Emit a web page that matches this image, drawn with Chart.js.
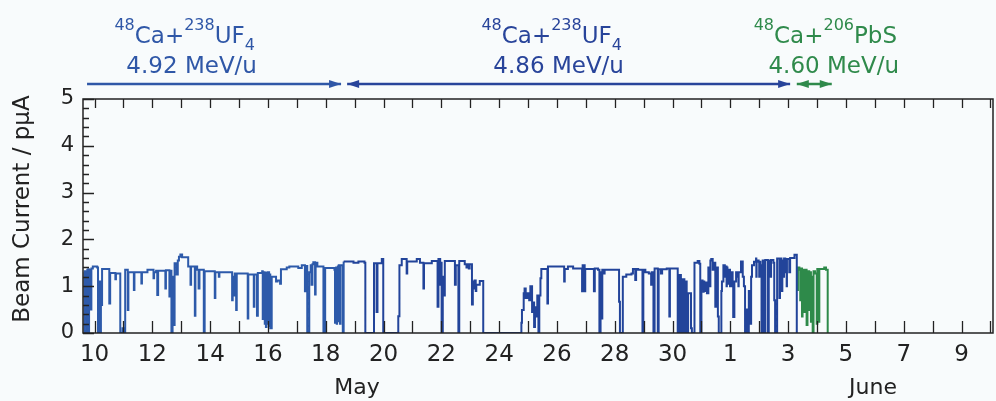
<!DOCTYPE html>
<html>
<head>
<meta charset="utf-8">
<script src="https://cdn.jsdelivr.net/npm/chart.js@4.4.1/dist/chart.umd.min.js"></script>
<style>
  html, body { margin: 0; padding: 0; background: #f8fbfc; }
  #wrap { width: 996px; height: 401px; }
</style>
</head>
<body>
<div id="wrap"><canvas id="beam" width="996" height="401"></canvas></div>
<script>
// Time axis: day of May (June days continue as 32, 33, ...)
// 48Ca on UF4 targets
const ufTimes = [
  // May 9-10
  9.63, 9.65, 9.66, 9.68, 9.70, 9.71, 9.73, 9.75, 9.76, 9.78, 9.80, 9.81, 9.83, 9.85, 9.87, 9.89,
  9.94, 10.09, 10.12, 10.14, 10.17, 10.20, 10.22, 10.26,
  // May 10-15
  10.51, 10.54, 10.72, 10.74, 10.89, 10.97, 11.02, 11.06, 11.15, 11.17, 11.36, 11.38, 11.62, 11.64,
  11.83, 12.04, 12.06, 12.13, 12.17, 12.20, 12.45, 12.47, 12.59, 12.61, 12.66, 12.70, 12.74, 12.77,
  12.84, 12.88, 12.92, 12.97, 13.03, 13.24, 13.32, 13.34, 13.47, 13.49, 13.55, 13.60, 13.63, 13.78,
  13.81, 14.16, 14.18, 14.30, 14.32, 14.76, 14.78, 14.82, 14.85, 14.90, 14.92, 15.30, 15.32, 15.51,
  15.53, 15.62, 15.65,
  // May 15-16
  15.80, 15.82, 15.83, 15.85, 15.87, 15.89, 15.90, 15.93, 15.95, 15.97, 15.98, 16.00, 16.02, 16.04,
  16.06, 16.08, 16.13,
  // May 16-18
  16.28, 16.33, 16.42, 16.45, 16.65, 16.74, 17.05, 17.17, 17.28, 17.31, 17.36, 17.43, 17.48, 17.51,
  17.54, 17.57, 17.63, 17.65, 17.71, 17.92, 17.98,
  // May 18
  18.30, 18.32, 18.33, 18.35, 18.36, 18.38, 18.39, 18.41, 18.42, 18.44, 18.45, 18.47, 18.48, 18.49,
  18.51, 18.59,
  // May 18-30
  18.62, 18.96, 19.13, 19.34, 19.37, 19.67, 19.76, 19.79, 19.94, 19.99, 20.51, 20.55, 20.63, 20.80,
  20.82, 21.15, 21.26, 21.38, 21.40, 21.67, 21.87, 21.90, 21.96, 21.98, 22.01, 22.05, 22.08, 22.12,
  22.47, 22.50, 22.59, 22.62, 22.81, 22.87, 22.90, 22.95, 22.98, 23.06, 23.09, 23.13, 23.15, 23.19,
  23.21, 23.33, 23.45, 24.77, 24.79, 24.85, 24.88, 24.92, 24.98, 25.04, 25.08, 25.14, 25.17, 25.21,
  25.24, 25.29, 25.32, 25.36, 25.39, 25.43, 25.46, 25.67, 25.69, 26.25, 26.27, 26.38, 26.56, 26.87,
  26.89, 26.96, 26.98, 27.28, 27.31, 27.42, 27.47, 27.51, 27.54, 27.57, 27.63, 27.65, 28.15, 28.18,
  28.28, 28.40, 28.58, 28.63, 28.71, 28.74, 28.81, 28.96, 28.99, 29.06, 29.18, 29.26, 29.28, 29.34,
  29.38, 29.49, 29.52, 29.60, 29.64, 29.80, 29.89, 29.91, 30.18, 30.24, 30.29, 30.35, 30.41, 30.44,
  30.49, 30.54, 30.64, 30.67,
  // May 30 - June 3
  30.76, 30.87, 30.93, 30.96, 31.00, 31.02, 31.03, 31.04, 31.07, 31.08, 31.10, 31.13, 31.16, 31.19,
  31.24, 31.27, 31.31, 31.34, 31.39, 31.44, 31.48, 31.52, 31.57, 31.60, 31.69, 31.71, 31.76, 31.81,
  31.82, 31.85, 31.87, 31.88, 31.90, 31.94, 31.99, 32.04, 32.08, 32.10, 32.14, 32.20, 32.25, 32.28,
  32.29, 32.31, 32.37, 32.43, 32.47, 32.51, 32.57, 32.60, 32.64, 32.68, 32.72, 32.75, 32.82, 32.89,
  32.90, 32.91, 32.98, 33.00, 33.01, 33.04, 33.08, 33.12, 33.19, 33.21, 33.30, 33.33, 33.40, 33.41,
  33.49, 33.52, 33.55, 33.62, 33.70, 33.72, 33.77, 33.80, 33.83, 33.86, 33.90, 33.91, 33.95, 33.96,
  34.04, 34.07, 34.22, 34.30
];
const ufCurrent = [
  // May 9-10
  1.30, 0, 1.32, 0.60, 1.30, 1.28, 0, 1.35, 0.30, 1.36, 0, 1.33, 0.90, 1.35, 0.50, 1.38,
  1.42, 1.40, 0, 1.05, 1.10, 0, 0.60, 1.37,
  // May 10-15
  0.63, 1.28, 1.15, 1.27, 0, 0.10, 0, 1.35, 0.49, 1.30, 0.92, 1.30, 1.06, 1.30,
  1.35, 1.17, 1.30, 1.33, 0.81, 1.33, 0.95, 1.34, 0.78, 1.33, 0, 1.20, 0.17, 1.49,
  1.25, 1.55, 1.63, 1.68, 1.62, 1.42, 1.03, 1.42, 0.37, 1.42, 1.35, 0.95, 1.35, 0,
  1.32, 0.75, 1.30, 1.20, 1.30, 0.70, 1.20, 0.80, 1.27, 0.49, 1.27, 0.31, 1.25, 0.56,
  1.25, 0.37, 1.28,
  // May 15-16
  1.32, 0.30, 1.30, 0.45, 1.30, 0.20, 1.28, 0.13, 1.25, 0.40, 1.30, 0.20, 1.30, 0.15,
  1.25, 0.10, 1.20,
  // May 16-18
  1.10, 1.12, 1.05, 1.36, 1.40, 1.42, 1.39, 1.45, 0.89, 1.43, 0, 1.30, 1.45, 1.03,
  1.47, 1.51, 0.82, 1.50, 1.42, 0, 1.39,
  // May 18
  1.35, 0.22, 1.38, 0.30, 1.40, 0.20, 1.40, 0.60, 1.42, 0.25, 1.45, 0.50, 1.45, 0.20,
  1.45, 0,
  // May 18-30
  1.53, 1.50, 1.53, 1.50, 0, 1.49, 0.45, 1.49, 1.58, 0, 0.36, 1.45, 1.58, 1.27,
  1.53, 1.58, 1.50, 0.95, 1.49, 1.54, 0.56, 1.58, 1.03, 1.50, 0, 1.20, 0.80, 1.54,
  1.03, 1.45, 0, 1.54, 1.47, 1.40, 1.47, 1.38, 1.47, 0.61, 1.10, 0.95, 1.12, 0.90,
  1.03, 1.11, 0, 0.22, 0.49, 0.85, 0.95, 0.75, 0.85, 0.70, 1.00, 0.45, 0.65, 0.13,
  0.55, 0.35, 0.80, 0, 0.80, 1.17, 1.37, 0.63, 1.42, 1.10, 1.37, 1.42, 1.38, 0.89,
  1.45, 0.89, 1.37, 0.89, 1.38, 1.35, 0, 1.30, 0.31, 1.35, 1.27, 1.35, 0.67, 0,
  1.20, 1.25, 1.27, 1.37, 1.13, 1.37, 1.35, 0, 1.35, 1.30, 1.27, 1.03, 1.30, 0,
  1.38, 0, 1.36, 1.27, 1.36, 1.38, 0.35, 1.38, 0, 1.24, 0, 1.15, 0, 1.10,
  0, 0.85, 0.10, 0,
  // May 30 - June 3
  1.50, 1.54, 1.48, 0, 1.05, 0.95, 1.12, 1.10, 0.88, 1.10, 0.90, 1.00, 1.08, 0.85,
  1.40, 1.00, 1.55, 1.58, 1.35, 1.50, 0.56, 1.40, 0.35, 0, 0.90, 1.10, 1.45, 1.20,
  1.40, 1.42, 1.00, 1.40, 1.05, 1.35, 1.00, 1.30, 1.05, 0.34, 1.10, 1.30, 1.20, 1.00,
  1.30, 1.30, 1.53, 1.20, 1.00, 0, 0.50, 0, 0.90, 0.20, 1.20, 1.45, 1.52, 1.59,
  1.20, 1.55, 1.52, 1.20, 1.52, 1.45, 0, 1.55, 0, 1.56, 0, 1.55, 1.20, 1.56,
  1.50, 0.70, 0, 1.59, 0.75, 1.59, 0.90, 1.55, 1.20, 1.59, 1.30, 1.58, 1.00, 1.58,
  1.30, 1.60, 1.67, 0
];
// 48Ca on PbS target
const pbsTimes = [
  34.31, 34.34, 34.39, 34.42, 34.45, 34.48, 34.50, 34.56, 34.58, 34.64, 34.67, 34.73, 34.76,
  34.79, 34.82, 34.85, 34.88, 34.93, 34.99, 35.01, 35.06, 35.08, 35.25, 35.31, 35.37
];
const pbsCurrent = [
  0.92, 1.40, 1.35, 0.70, 1.38, 0.35, 1.35, 0.45, 1.35, 0.17, 1.32, 0.49, 1.30,
  0.24, 1.20, 0, 1.32, 1.27, 0.20, 1.37, 0.24, 1.37, 1.40, 1.35, 0
];

const dayTicks = [10, 12, 14, 16, 18, 20, 22, 24, 26, 28, 30, 32, 34, 36, 38, 40];
const dayLabels = ['10', '12', '14', '16', '18', '20', '22', '24', '26', '28', '30', '1', '3', '5', '7', '9'];
const monthNames = ['May', 'June'];
const monthCenters = [19.08, 36.94];

// Beam/target periods shown above the plot
const runs = [
  { target: [['48', 'sup'], ['Ca+', ''], ['238', 'sup'], ['UF', ''], ['4', 'sub']],
    energy: '4.92 MeV/u', labelEnd: 15.55, from: 9.74, to: 18.53, heads: ['end'], color: '#2f57a7' },
  { target: [['48', 'sup'], ['Ca+', ''], ['238', 'sup'], ['UF', ''], ['4', 'sub']],
    energy: '4.86 MeV/u', labelEnd: 28.25, from: 18.74, to: 34.07, heads: ['start', 'end'], color: '#28449a' },
  { target: [['48', 'sup'], ['Ca+', ''], ['206', 'sup'], ['PbS', '']],
    energy: '4.60 MeV/u', labelEnd: 37.77, from: 34.30, to: 35.51, heads: ['start', 'end'], color: '#2f8a4b' }
];

const FONT = '"DejaVu Sans", Verdana, sans-serif';
const INK = '#222222';

function toPoints(ts, vs) { return ts.map((t, i) => ({ x: t, y: vs[i] })); }

function drawHead(ctx, tipX, y, dir) {
  ctx.beginPath();
  ctx.moveTo(tipX, y);
  ctx.lineTo(tipX - dir * 12, y - 4);
  ctx.lineTo(tipX - dir * 12, y + 4);
  ctx.closePath();
  ctx.fill();
}

function drawFormula(ctx, parts, rightX, baseY) {
  const fontFor = k => (k ? '16px ' : '23px ') + FONT;
  let total = 0;
  parts.forEach(([t, k]) => { ctx.font = fontFor(k); total += ctx.measureText(t).width; });
  let px = rightX - total;
  parts.forEach(([t, k]) => {
    ctx.font = fontFor(k);
    const dy = k === 'sup' ? -13 : (k === 'sub' ? 7 : 0);
    ctx.fillText(t, px, baseY + dy);
    px += ctx.measureText(t).width;
  });
}

const decorations = {
  id: 'decorations',
  afterDatasetsDraw(chart) {
    const { ctx, chartArea: a, scales: { x, y } } = chart;
    ctx.save();
    // frame
    ctx.strokeStyle = INK;
    ctx.lineWidth = 1.5;
    ctx.strokeRect(a.left, a.top, a.right - a.left, a.bottom - a.top);
    // day ticks, pointing inward on bottom and top
    ctx.lineWidth = 1.3;
    ctx.beginPath();
    for (let d = Math.ceil(x.min); d <= x.max; d++) {
      const px = Math.round(x.getPixelForValue(d)) + 0.5;
      ctx.moveTo(px, a.bottom); ctx.lineTo(px, a.bottom - 12);
      ctx.moveTo(px, a.top); ctx.lineTo(px, a.top + 9);
    }
    // current ticks: major every 1, minor every 0.2
    for (let k = 0; k <= 25; k++) {
      const py = Math.round(y.getPixelForValue(k / 5)) + 0.5;
      const len = k % 5 === 0 ? 11 : 6;
      ctx.moveTo(a.left, py); ctx.lineTo(a.left + len, py);
    }
    ctx.stroke();
    ctx.restore();
  },
  afterDraw(chart) {
    const { ctx, scales: { x } } = chart;
    ctx.save();
    // axis title
    ctx.fillStyle = INK;
    ctx.font = '23px ' + FONT;
    ctx.textAlign = 'center';
    ctx.textBaseline = 'middle';
    ctx.translate(23, 209);
    ctx.rotate(-Math.PI / 2);
    ctx.fillText('Beam Current / p\u03bcA', 0, 0);
    ctx.restore();

    ctx.save();
    ctx.fillStyle = INK;
    ctx.font = '22px ' + FONT;
    ctx.textAlign = 'center';
    ctx.textBaseline = 'alphabetic';
    monthNames.forEach((m, i) => ctx.fillText(m, x.getPixelForValue(monthCenters[i]), 394));

    // run annotations
    const arrowY = 84;
    runs.forEach(r => {
      ctx.fillStyle = r.color;
      ctx.strokeStyle = r.color;
      ctx.textAlign = 'left';
      const right = x.getPixelForValue(r.labelEnd);
      drawFormula(ctx, r.target, right, 43);
      ctx.font = '23px ' + FONT;
      ctx.textAlign = 'right';
      ctx.fillText(r.energy, right + 2, 73);
      const x0 = x.getPixelForValue(r.from), x1 = x.getPixelForValue(r.to);
      ctx.lineWidth = 2.5;
      ctx.beginPath(); ctx.moveTo(x0, arrowY); ctx.lineTo(x1, arrowY); ctx.stroke();
      if (r.heads.includes('start')) drawHead(ctx, x0, arrowY, -1);
      if (r.heads.includes('end')) drawHead(ctx, x1, arrowY, 1);
    });
    ctx.restore();
  }
};

new Chart(document.getElementById('beam'), {
  type: 'line',
  data: {
    datasets: [
      { data: toPoints(ufTimes, ufCurrent), borderColor: '#26489c', borderWidth: 2,
        segment: { borderColor: c => (c.p0.parsed.x < 18.6 ? '#2d5aaa' : '#22449a') },
        stepped: true, pointRadius: 0, fill: false },
      { data: toPoints(pbsTimes, pbsCurrent), borderColor: '#2e8a4a', borderWidth: 2,
        stepped: true, pointRadius: 0, fill: false }
    ]
  },
  options: {
    responsive: false,
    animation: false,
    events: [],
    devicePixelRatio: 1,
    layout: { padding: { top: 99, right: 3, left: 0, bottom: 0 } },
    plugins: { legend: { display: false }, tooltip: { enabled: false } },
    scales: {
      x: {
        type: 'linear', min: 9.6, max: 41.09,
        grid: { display: false, drawTicks: false },
        border: { display: false },
        afterBuildTicks: s => { s.ticks = dayTicks.map(v => ({ value: v })); },
        afterFit: s => { s.height = 68; },
        ticks: { autoSkip: false, maxRotation: 0, padding: 8, color: INK,
                 font: { family: FONT, size: 23 },
                 callback: (v, i) => dayLabels[i] }
      },
      y: {
        min: 0, max: 5,
        grid: { display: false, drawTicks: false },
        border: { display: false },
        afterFit: s => { s.width = 83; },
        ticks: { stepSize: 1, padding: 9, color: INK, font: { family: FONT, size: 21 } }
      }
    }
  },
  plugins: [decorations]
});
</script>
</body>
</html>
